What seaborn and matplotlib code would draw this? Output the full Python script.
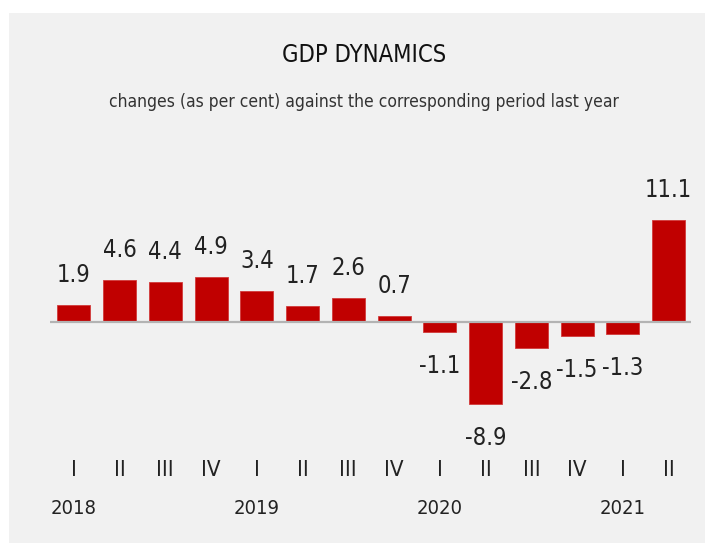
import matplotlib
matplotlib.use("Agg")
import matplotlib.pyplot as plt
import matplotlib.transforms as mtransforms
from matplotlib.patches import Rectangle
import seaborn as sns
import pandas as pd

# DATA
periods = ["2018 I", "2018 II", "2018 III", "2018 IV",
           "2019 I", "2019 II", "2019 III", "2019 IV",
           "2020 I", "2020 II", "2020 III", "2020 IV",
           "2021 I", "2021 II"]
quarters = ["I", "II", "III", "IV", "I", "II", "III", "IV",
            "I", "II", "III", "IV", "I", "II"]
gdp_change = [1.9, 4.6, 4.4, 4.9, 3.4, 1.7, 2.6, 0.7,
              -1.1, -8.9, -2.8, -1.5, -1.3, 11.1]
years = ["2018", "2019", "2020", "2021"]
year_pos = [0, 4, 8, 12]

df = pd.DataFrame({"period": periods, "change": gdp_change})

sns.set_theme(style="white")
plt.rcParams["font.family"] = ["DejaVu Sans"]
plt.rcParams["font.stretch"] = "condensed"

W, H = 705, 543
fig = plt.figure(figsize=(W / 100, H / 100), dpi=100, facecolor="white")

# light grey panel behind everything
fig.patches.append(Rectangle((9 / W, 0), 1 - 9 / W, (H - 13) / H,
                             transform=fig.transFigure, facecolor="#f1f1f1",
                             edgecolor="none", zorder=-5))

# axes: x from 50 to 691 px, y from 130 to 445 px (top coords)
ax = fig.add_axes([50 / W, (H - 445) / H, 641 / W, 315 / H])
ax.set_facecolor("none")

sns.barplot(data=df, x="period", y="change", color="#c00000",
            width=0.72, saturation=1, edgecolor="#d23a3a", linewidth=0.6,
            ax=ax, zorder=2)

ax.set_xlim(-0.52, 13.49)
px_per_unit = 9.2
ax.set_ylim(-(445 - 322) / px_per_unit, (322 - 130) / px_per_unit)
ax.axhline(0, color="#b3b3b3", linewidth=1.6, zorder=3)

for s in ax.spines.values():
    s.set_visible(False)
ax.set_yticks([])
ax.set_xlabel("")
ax.set_ylabel("")

text_color = "#222222"

# value labels
for i, v in enumerate(gdp_change):
    if v >= 0:
        ax.annotate(f"{v}", (i, v), xytext=(0, 16.5), textcoords="offset points",
                    ha="center", va="baseline", fontsize=17, color=text_color)
    else:
        ax.annotate(f"{v}", (i, v), xytext=(0, -16), textcoords="offset points",
                    ha="center", va="top", fontsize=17, color=text_color)

# quarter labels
ax.set_xticks(range(len(quarters)))
ax.set_xticklabels(quarters, fontsize=16, color=text_color)
ax.tick_params(axis="x", length=0, pad=11)

# year labels
trans = mtransforms.blended_transform_factory(ax.transData, fig.transFigure)
for p, y in zip(year_pos, years):
    ax.text(p, (H - 509) / H, y, transform=trans, ha="center", va="center",
            fontsize=14.5, color=text_color)

# title and subtitle
fig.text(364 / W, 1 - 55 / H, "GDP DYNAMICS", ha="center", va="center",
         fontsize=17, color="#111111")
fig.text(364 / W, 1 - 102 / H,
         "changes (as per cent) against the corresponding period last year",
         ha="center", va="center", fontsize=12.5, color="#333333")

fig.savefig("out.png", dpi=100, facecolor=fig.get_facecolor())
